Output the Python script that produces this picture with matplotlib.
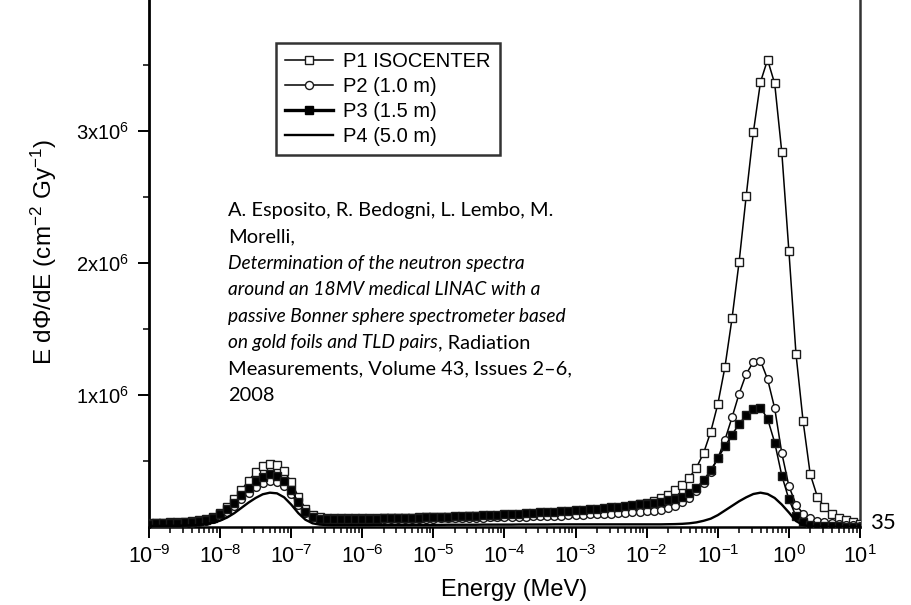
import numpy as np
import matplotlib
matplotlib.use("Agg")
import matplotlib.pyplot as plt
from matplotlib.ticker import FixedLocator, LogLocator, NullFormatter
from matplotlib.lines import Line2D

plt.rcParams['font.family'] = ['Liberation Sans', 'DejaVu Sans']
plt.rcParams['mathtext.fontset'] = 'custom'
plt.rcParams['mathtext.rm'] = 'Liberation Sans'
plt.rcParams['mathtext.it'] = 'Liberation Sans:italic'
plt.rcParams['mathtext.bf'] = 'Liberation Sans:bold'

# ---------------- data ----------------
log_energy = [
    -9.0, -8.9, -8.8, -8.7, -8.6, -8.5, -8.4, -8.3, -8.2, -8.1,
    -8.0, -7.9, -7.8, -7.7, -7.6, -7.5, -7.4, -7.3, -7.2, -7.1,
    -7.0, -6.9, -6.8, -6.7, -6.6, -6.5, -6.4, -6.3, -6.2, -6.1,
    -6.0, -5.9, -5.8, -5.7, -5.6, -5.5, -5.4, -5.3, -5.2, -5.1,
    -5.0, -4.9, -4.8, -4.7, -4.6, -4.5, -4.4, -4.3, -4.2, -4.1,
    -4.0, -3.9, -3.8, -3.7, -3.6, -3.5, -3.4, -3.3, -3.2, -3.1,
    -3.0, -2.9, -2.8, -2.7, -2.6, -2.5, -2.4, -2.3, -2.2, -2.1,
    -2.0, -1.9, -1.8, -1.7, -1.6, -1.5, -1.4, -1.3, -1.2, -1.1,
    -1.0, -0.9, -0.8, -0.7, -0.6, -0.5, -0.4, -0.3, -0.2, -0.1,
    0.0, 0.1, 0.2, 0.3, 0.4, 0.5, 0.6, 0.7, 0.8, 0.9, 1.0]

# values in units of 1e6 cm^-2 Gy^-1
p1_isocenter = [
    0.030, 0.032, 0.034, 0.036, 0.038, 0.041, 0.045, 0.050, 0.060, 0.078,
    0.105, 0.150, 0.210, 0.280, 0.350, 0.415, 0.460, 0.480, 0.470, 0.425,
    0.340, 0.230, 0.140, 0.090, 0.072, 0.066, 0.065, 0.065, 0.065, 0.065,
    0.066, 0.066, 0.067, 0.067, 0.068, 0.069, 0.070, 0.071, 0.072, 0.073,
    0.074, 0.075, 0.076, 0.078, 0.079, 0.080, 0.082, 0.083, 0.085, 0.086,
    0.088, 0.090, 0.092, 0.094, 0.096, 0.098, 0.100, 0.103, 0.106, 0.109,
    0.112, 0.116, 0.120, 0.125, 0.130, 0.136, 0.143, 0.150, 0.160, 0.172,
    0.185, 0.200, 0.220, 0.245, 0.280, 0.320, 0.375, 0.450, 0.560, 0.720,
    0.930, 1.210, 1.580, 2.010, 2.510, 2.990, 3.370, 3.540, 3.360, 2.840,
    2.090, 1.310, 0.800, 0.400, 0.230, 0.150, 0.100, 0.070, 0.050, 0.035, 0.025]

p2_1m = [
    0.020, 0.022, 0.024, 0.026, 0.028, 0.030, 0.033, 0.038, 0.046, 0.060,
    0.082, 0.115, 0.160, 0.210, 0.260, 0.305, 0.335, 0.350, 0.342, 0.310,
    0.250, 0.170, 0.105, 0.072, 0.062, 0.058, 0.057, 0.057, 0.057, 0.057,
    0.058, 0.058, 0.058, 0.059, 0.059, 0.060, 0.060, 0.061, 0.062, 0.063,
    0.064, 0.065, 0.066, 0.067, 0.068, 0.069, 0.070, 0.071, 0.072, 0.073,
    0.075, 0.076, 0.077, 0.079, 0.080, 0.082, 0.083, 0.085, 0.087, 0.089,
    0.091, 0.093, 0.095, 0.097, 0.099, 0.101, 0.104, 0.107, 0.110, 0.114,
    0.118, 0.124, 0.132, 0.145, 0.162, 0.190, 0.220, 0.270, 0.330, 0.420,
    0.520, 0.660, 0.830, 1.010, 1.160, 1.250, 1.260, 1.120, 0.900, 0.560,
    0.310, 0.170, 0.100, 0.065, 0.045, 0.035, 0.027, 0.021, 0.016, 0.012, 0.010]

p3_15m = [
    0.025, 0.027, 0.029, 0.031, 0.033, 0.036, 0.040, 0.045, 0.054, 0.070,
    0.095, 0.135, 0.185, 0.240, 0.295, 0.345, 0.380, 0.400, 0.390, 0.350,
    0.280, 0.190, 0.115, 0.075, 0.062, 0.058, 0.058, 0.059, 0.060, 0.061,
    0.062, 0.063, 0.064, 0.065, 0.066, 0.067, 0.068, 0.070, 0.071, 0.073,
    0.075, 0.077, 0.079, 0.081, 0.083, 0.085, 0.087, 0.089, 0.091, 0.093,
    0.096, 0.098, 0.101, 0.104, 0.107, 0.110, 0.113, 0.116, 0.120, 0.124,
    0.128, 0.132, 0.136, 0.140, 0.145, 0.150, 0.155, 0.160, 0.166, 0.172,
    0.178, 0.185, 0.193, 0.202, 0.212, 0.230, 0.255, 0.295, 0.355, 0.430,
    0.520, 0.610, 0.700, 0.780, 0.850, 0.895, 0.905, 0.820, 0.640, 0.390,
    0.210, 0.080, 0.035, 0.018, 0.010, 0.007, 0.005, 0.004, 0.003, 0.002, 0.002]

p4_5m = [
    0.008, 0.008, 0.009, 0.009, 0.010, 0.011, 0.013, 0.016, 0.022, 0.032,
    0.048, 0.072, 0.105, 0.145, 0.185, 0.220, 0.248, 0.260, 0.255, 0.225,
    0.170, 0.105, 0.055, 0.028, 0.018, 0.015, 0.014, 0.014, 0.014, 0.014,
    0.014, 0.014, 0.015, 0.015, 0.015, 0.015, 0.015, 0.016, 0.016, 0.016,
    0.016, 0.016, 0.017, 0.017, 0.017, 0.017, 0.017, 0.018, 0.018, 0.018,
    0.018, 0.018, 0.019, 0.019, 0.019, 0.019, 0.019, 0.020, 0.020, 0.020,
    0.020, 0.020, 0.020, 0.020, 0.020, 0.020, 0.020, 0.020, 0.020, 0.020,
    0.020, 0.020, 0.020, 0.021, 0.022, 0.024, 0.028, 0.035, 0.047, 0.063,
    0.090, 0.125, 0.160, 0.195, 0.225, 0.250, 0.260, 0.250, 0.220, 0.170,
    0.110, 0.045, 0.015, 0.005, 0.002, 0.001, 0.001, 0.001, 0.001, 0.001, 0.001]

series_labels = ["P1 ISOCENTER", "P2 (1.0 m)", "P3 (1.5 m)", "P4 (5.0 m)"]
y_tick_values = [1e6, 2e6, 3e6]
y_tick_labels = ["1x10$^6$", "2x10$^6$", "3x10$^6$"]
y_minor_values = [0.5e6, 1.5e6, 2.5e6, 3.5e6]

citation_lines = [
    [("A. Esposito, R. Bedogni, L. Lembo, M.", "normal")],
    [("Morelli,", "normal")],
    [("Determination of the neutron spectra", "italic")],
    [("around an 18MV medical LINAC with a", "italic")],
    [("passive Bonner sphere spectrometer based", "italic")],
    [("on gold foils and TLD pairs", "italic"), (", Radiation", "normal")],
    [("Measurements, Volume 43, Issues 2\u20136,", "normal")],
    [("2008", "normal")],
]
page_number = "35"

# ---------------- figure ----------------
W, H = 912, 605
fig = plt.figure(figsize=(W / 100, H / 100), dpi=100)
ax_left, ax_right, ax_bottom, ax_top = 149, 860, 527, 0
ax = fig.add_axes([ax_left / W, 1 - ax_bottom / H,
                   (ax_right - ax_left) / W, (ax_bottom - ax_top) / H])

energy = 10.0 ** np.array(log_energy)
scale = 1e6
line_kw = dict(color='black', lw=1.1, mec='#1a1a1a', mew=1.0)
ax.plot(energy, np.array(p1_isocenter) * scale, marker='s', ms=5.8, mfc='white',
        label=series_labels[0], zorder=3, **line_kw)
ax.plot(energy, np.array(p2_1m) * scale, marker='o', ms=5.6, mfc='white',
        label=series_labels[1], zorder=4, **line_kw)
ax.plot(energy, np.array(p3_15m) * scale, marker='s', ms=5.4, mfc='black',
        label=series_labels[2], zorder=5, **line_kw)
ax.plot(energy, np.array(p4_5m) * scale, color='black', lw=1.7,
        label=series_labels[3], zorder=6)

ax.set_xscale('log')
ax.set_xlim(1e-9, 1e1)
ax.set_ylim(0, ax_bottom / 132.0 * 1e6)

ax.xaxis.set_major_locator(LogLocator(base=10, numticks=20))
ax.xaxis.set_minor_locator(LogLocator(base=10, subs=np.arange(2, 10), numticks=200))
ax.xaxis.set_minor_formatter(NullFormatter())
ax.yaxis.set_major_locator(FixedLocator(y_tick_values))
ax.set_yticklabels(y_tick_labels)
ax.yaxis.set_minor_locator(FixedLocator(y_minor_values))

ax.spines['top'].set_visible(False)
ax.spines['left'].set_linewidth(2.0)
ax.spines['bottom'].set_linewidth(1.8)
ax.spines['right'].set_linewidth(1.8)
ax.spines['right'].set_color('#333333')
ax.tick_params(axis='both', which='major', direction='out', length=8, width=1.4,
               colors='black')
ax.tick_params(axis='both', which='minor', direction='out', length=4.5, width=1.1)
ax.tick_params(axis='x', which='major', labelsize=15.5, pad=5)
ax.tick_params(axis='y', which='major', labelsize=14.5, pad=6)
ax.tick_params(right=False, top=False, which='both')

ax.set_xlabel("Energy (MeV)", fontsize=17)
ax.xaxis.set_label_coords((514 - ax_left) / (ax_right - ax_left), -(590 - ax_bottom) / ax_bottom)
ax.xaxis.label.set_va('center')
ax.set_ylabel("E d\u03a6/dE (cm$^{-2}$ Gy$^{-1}$)", fontsize=17.5)
ax.yaxis.set_label_coords(-(ax_left - 44) / (ax_right - ax_left), (ax_bottom - 252) / ax_bottom)
ax.yaxis.label.set_va('center')

# legend
handles = [
    Line2D([], [], color='black', lw=1.1, marker='s', ms=6.0, mfc='white', mec='#1a1a1a', mew=1.0),
    Line2D([], [], color='black', lw=1.1, marker='o', ms=5.8, mfc='white', mec='#1a1a1a', mew=1.0),
    Line2D([], [], color='black', lw=2.4, marker='s', ms=6.0, mfc='black', mec='black'),
    Line2D([], [], color='black', lw=1.7),
]
leg = ax.legend(handles, series_labels, loc='upper left',
                bbox_to_anchor=(276 / W, 1 - 43 / H), bbox_transform=fig.transFigure,
                borderaxespad=0, frameon=True, fancybox=False, fontsize=14.5,
                handlelength=2.4, handletextpad=0.5, labelspacing=0.3,
                borderpad=0.45, numpoints=1)
leg.get_frame().set_edgecolor('black')
leg.get_frame().set_linewidth(1.8)
leg.set_zorder(10)

# citation text
cite_font = ['Lato', 'DejaVu Sans']
cite_sizes = {"normal": 14.4, "italic": 13.8}
x0 = 228 / W
fig.canvas.draw()
renderer = fig.canvas.get_renderer()
for i, parts in enumerate(citation_lines):
    y = 1 - (216 + 26.4 * i) / H
    x = x0
    for txt, style in parts:
        t = fig.text(x, y, txt, fontsize=cite_sizes[style], family=cite_font, style=style,
                     va='baseline', ha='left', color='black')
        bb = t.get_window_extent(renderer=renderer)
        x = x + bb.width / W

fig.text(870 / W, 1 - 529 / H, page_number, fontsize=16, family=cite_font,
         va='baseline', ha='left', color='black')

fig.savefig("out.png", dpi=100)
